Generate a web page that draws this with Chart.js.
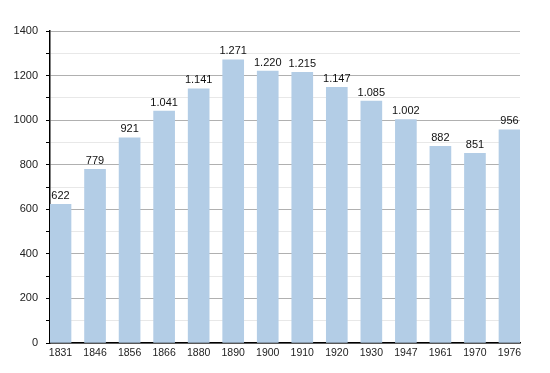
<!DOCTYPE html>
<html>
<head>
<meta charset="utf-8">
<script src="https://cdn.jsdelivr.net/npm/chart.js@4"></script>
<style>
  html, body { margin:0; padding:0; background:#fff; }
  #wrap { width:550px; height:373px; }
</style>
</head>
<body>
<div id="wrap"><canvas id="popChart" width="550" height="373"></canvas></div>
<script>
"use strict";
const years  = ['1831','1846','1856','1866','1880','1890','1900','1910','1920','1930','1947','1961','1970','1976'];
const values = [622, 779, 921, 1041, 1141, 1271, 1220, 1215, 1147, 1085, 1002, 882, 851, 956];

function fmtNum(v) { return v >= 1000 ? Math.floor(v / 1000) + '.' + String(v % 1000).padStart(3, '0') : String(v); }

// bars sit flush against the y axis and the right edge of the plot
const edge = 10.5 / 34.5;

const barLabels = {
  id:'barLabels',
  afterDatasetsDraw(chart) {
    const { ctx } = chart;
    const meta = chart.getDatasetMeta(0);
    ctx.save();
    ctx.font = '11px "Liberation Sans", Arial, sans-serif';
    ctx.fillStyle = '#111';
    ctx.textAlign = 'center';
    ctx.textBaseline = 'bottom';
    meta.data.forEach((bar, i) => {
      ctx.fillText(fmtNum(values[i]), bar.x, bar.y - 3);
    });
    ctx.restore();
  }
};

new Chart(document.getElementById('popChart').getContext('2d'), {
  type:'bar',
  data:{
    datasets:[{
      data: values.map((v, i) => ({ x:i, y:v })),
      backgroundColor:'#b3cde6',
      borderWidth:0,
      barThickness:21
    }]
  },
  options:{
    responsive:false,
    animation:false,
    layout:{ padding:{ top:31, right:30, bottom:0, left:0 } },
    plugins:{ legend:{ display:false }, tooltip:{ enabled:false } },
    scales:{
      x:{
        type:'linear',
        min:-edge, max:years.length - 1 + edge,
        offset:false,
        grid:{ display:false, drawTicks:false, tickLength:0 },
        border:{ display:true, color:'#000', width:1.5 },
        afterBuildTicks(s) { s.ticks = years.map((_, i) => ({ value:i })); },
        ticks:{
          color:'#222',
          font:{ family:'"Liberation Sans", Arial, sans-serif', size:10.5 },
          padding:4, maxRotation:0, autoSkip:false,
          callback: v => years[v]
        },
        afterFit(s) { s.height = 30; }
      },
      y:{
        min:0, max:1400,
        ticks:{
          stepSize:100,
          color:'#222',
          font:{ family:'"Liberation Sans", Arial, sans-serif', size:11 },
          padding:8,
          callback: v => v % 200 === 0 ? v : ''
        },
        grid:{
          color: c => c.tick && c.tick.value % 200 === 0 ? '#b0b0b0' : '#e8e8e8',
          tickColor:'#000',
          tickLength:4,
          lineWidth:1
        },
        border:{ display:true, color:'#000', width:1.5 },
        afterFit(s) { s.width = 50; }
      }
    }
  },
  plugins:[barLabels]
});
</script>
</body>
</html>
